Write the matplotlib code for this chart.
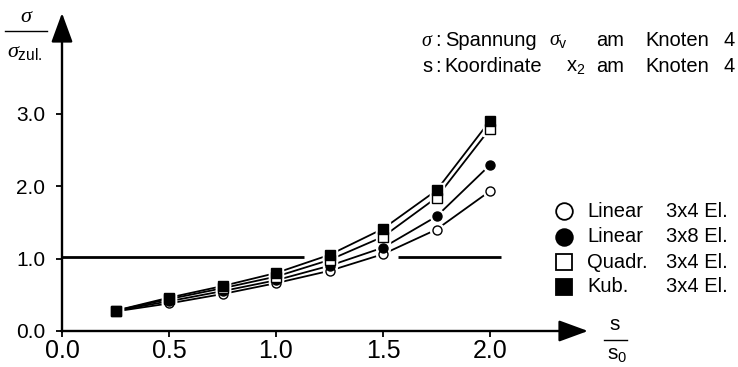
import matplotlib
matplotlib.use("Agg")
import matplotlib.pyplot as plt
from matplotlib.lines import Line2D

plt.rcParams['font.family'] = ['Liberation Sans', 'DejaVu Sans']
plt.rcParams['mathtext.fontset'] = 'custom'
plt.rcParams['mathtext.rm'] = 'Liberation Sans'
plt.rcParams['mathtext.sf'] = 'Liberation Sans'
plt.rcParams['mathtext.it'] = 'Liberation Serif:italic'

# ---- data ----
s_ratio = [0.25, 0.5, 0.75, 1.0, 1.25, 1.5, 1.75, 2.0]
linear_3x4 = [0.27, 0.38, 0.51, 0.66, 0.83, 1.06, 1.40, 1.93]
linear_3x8 = [0.28, 0.41, 0.55, 0.70, 0.90, 1.15, 1.58, 2.29]
quadr_3x4 = [0.28, 0.44, 0.59, 0.75, 0.98, 1.30, 1.84, 2.79]
kub_3x4 = [0.28, 0.46, 0.62, 0.80, 1.05, 1.41, 1.94, 2.90]
limit_segments = [(0.0, 1.13), (1.57, 2.05)]
limit_value = 1.02
xticks = [0.0, 0.5, 1.0, 1.5, 2.0]
yticks = [0.0, 1.0, 2.0, 3.0]
legend_names = ["Linear", "Linear", "Quadr.", "Kub."]
legend_meshes = ["3x4 El.", "3x8 El.", "3x4 El.", "3x4 El."]

W, H = 738, 367
fig = plt.figure(figsize=(W / 100, H / 100), dpi=100)

x0_px, y0_px = 62, 331
ux, uy = 214.0, 72.5
xmax, ymax = 2.4, 4.3
ax = fig.add_axes([x0_px / W, (H - y0_px) / H, xmax * ux / W, ymax * uy / H])
ax.set_xlim(0, xmax)
ax.set_ylim(0, ymax)
for sp in ax.spines.values():
    sp.set_visible(False)

def px(x, y):
    return (x / W, 1 - y / H)

# axes with arrows
arrow_kw = dict(arrowstyle='-|>,head_length=0.6,head_width=0.22', lw=1.7,
                color='black', mutation_scale=30, shrinkA=0, shrinkB=0)
ax.annotate('', xy=((588 - x0_px) / ux, 0), xytext=(-0.004, 0),
            arrowprops=arrow_kw, annotation_clip=False)
ax.annotate('', xy=(0, (y0_px - 13) / uy), xytext=(0, -0.012),
            arrowprops=arrow_kw, annotation_clip=False)

ax.set_xticks(xticks)
ax.set_xticklabels([f"{v:.1f}" for v in xticks],
                   family=['Liberation Sans Narrow', 'Liberation Sans'], fontsize=18)
ax.set_yticks(yticks)
ax.set_yticklabels([f"{v:.1f}" for v in yticks], fontsize=15)
ax.tick_params(axis='both', direction='out', length=4, width=1.3)
ax.tick_params(axis='x', pad=2)
ax.tick_params(axis='y', pad=8)

# limit line
for a, b in limit_segments:
    ax.plot([a, b], [limit_value, limit_value], color='black', lw=2.0,
            solid_capstyle='butt', zorder=2)

series = [
    (linear_3x4, 'o', 'white'),
    (linear_3x8, 'o', 'black'),
    (quadr_3x4, 's', 'white'),
    (kub_3x4, 's', 'black'),
]
for ys, m, fc in series:
    ax.plot(s_ratio, ys, color='black', lw=1.3, zorder=3)
for ys, m, fc in series:
    ax.plot(s_ratio, ys, ls='none', marker=m, ms=10, mfc='white', mec='white',
            zorder=4)
for ys, m, fc in series:
    ax.plot(s_ratio, ys, ls='none', marker=m, ms=6.5, mfc=fc, mec='black',
            mew=1.0, zorder=5)

# y label (fraction)
fig.text(*px(27, 17), r'$\sigma$', fontsize=16, ha='center', va='center')
fig.add_artist(Line2D([5 / W, 47 / W], [1 - 31 / H, 1 - 31 / H], color='black', lw=1.0))
fig.text(*px(7, 52), r'$\sigma_{\mathrm{zul.}}$', fontsize=16, ha='left', va='center')

# x label (fraction)
fig.text(*px(615, 324), 's', fontsize=15, ha='center', va='center')
fig.add_artist(Line2D([604 / W, 627 / W], [1 - 340 / H, 1 - 340 / H], color='black', lw=1.0))
fig.text(*px(607, 354), r's$_{\mathrm{0}}$', fontsize=15, ha='left', va='center')

# annotations (word positions follow the reference spacing)
row1 = [(421, r'$\sigma$'), (435, ':'), (445, 'Spannung'), (549, r'$\sigma_{\mathrm{v}}$'),
        (596, 'am'), (645, 'Knoten'), (724, '4')]
row2 = [(422, 's'), (435, ':'), (444, 'Koordinate'), (566, r'x$_{\mathrm{2}}$'),
        (596, 'am'), (645, 'Knoten'), (724, '4')]
for x, t in row1:
    fig.text(*px(x, 41), t, fontsize=14.5, ha='left', va='center')
for x, t in row2:
    fig.text(*px(x, 66), t, fontsize=14.5, ha='left', va='center')

# legend
rows_y = [211, 237, 262, 287]
for (ys, m, fc), name, mesh, ry in zip(series, legend_names, legend_meshes, rows_y):
    fig.add_artist(Line2D([564 / W], [1 - ry / H], marker=m, ms=12 if m == 'o' else 11.5,
                          mfc=fc, mec='black', mew=1.3, ls='none'))
    fig.text(*px(587, ry), name, fontsize=14.5, ha='left', va='center')
    fig.text(*px(666, ry), mesh, fontsize=14.5, ha='left', va='center')

fig.savefig('out.png', dpi=100)
